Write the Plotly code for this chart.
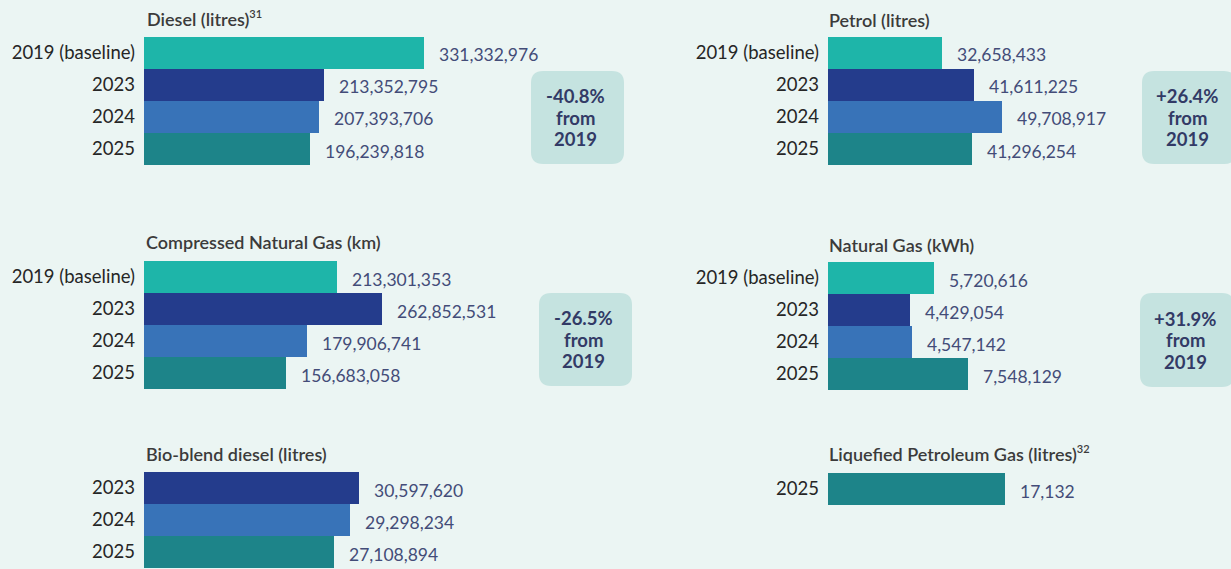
import plotly.graph_objects as go

# ---- data ----
years_full = ["2019 (baseline)", "2023", "2024", "2025"]
diesel = [331332976, 213352795, 207393706, 196239818]
petrol = [32658433, 41611225, 49708917, 41296254]
cng = [213301353, 262852531, 179906741, 156683058]
natural_gas = [5720616, 4429054, 4547142, 7548129]
bio_years = ["2023", "2024", "2025"]
bio_blend = [30597620, 29298234, 27108894]
lpg_years = ["2025"]
lpg = [17132]

# ---- styling ----
W, H = 1231, 569
BG = "#ebf5f3"
BADGE = "#c5e3e0"
YEAR_COLORS = {
    "2019 (baseline)": "#1eb5a9",
    "2023": "#243c8c",
    "2024": "#3873b8",
    "2025": "#1d8489",
}
FONT = "Lato"
SUP = '<sup><span style="font-size:11px">{}</span></sup>'

# each panel: title, categories, values, bar area (px: left, right, top, bottom),
# title anchor (px), change badge box (px) or None
panels = [
    dict(title="Diesel (litres)" + SUP.format("31"), cats=years_full, vals=diesel,
         box=(144, 424, 37, 165), tpos=(145, 19), badge=(531, 71, 624, 164)),
    dict(title="Petrol (litres)", cats=years_full, vals=petrol,
         box=(828, 1002, 37, 165), tpos=(827, 20), badge=(1142, 71, 1236, 164)),
    dict(title="Compressed Natural Gas (km)", cats=years_full, vals=cng,
         box=(144, 382, 261, 389), tpos=(144, 242), badge=(539, 293, 632, 386)),
    dict(title="Natural Gas (kWh)", cats=years_full, vals=natural_gas,
         box=(828, 968, 262, 390), tpos=(827, 245), badge=(1140, 293, 1234, 387)),
    dict(title="Bio-blend diesel (litres)", cats=bio_years, vals=bio_blend,
         box=(144, 359, 472, 568), tpos=(144, 454), badge=None),
    dict(title="Liquefied Petroleum Gas (litres)" + SUP.format("32"), cats=lpg_years, vals=lpg,
         box=(828, 1005, 473, 505), tpos=(827, 453), badge=None),
]


def px_x(x):
    return x / W


def px_y(y):
    return 1 - y / H


def rounded_rect(x0, y0, x1, y1, r):
    rx, ry = r / W, r / H
    a, b, c, d = px_x(x0), px_y(y0), px_x(x1), px_y(y1)
    return (f"M {a+rx},{b} L {c-rx},{b} Q {c},{b} {c},{b-ry} "
            f"L {c},{d+ry} Q {c},{d} {c-rx},{d} L {a+rx},{d} "
            f"Q {a},{d} {a},{d+ry} L {a},{b-ry} Q {a},{b} {a+rx},{b} Z")


fig = go.Figure()
layout = dict(
    width=W, height=H,
    margin=dict(l=0, r=0, t=0, b=0),
    paper_bgcolor=BG, plot_bgcolor=BG,
    showlegend=False, bargap=0,
    annotations=[], shapes=[],
)

for i, p in enumerate(panels, start=1):
    xa = "x" if i == 1 else f"x{i}"
    ya = "y" if i == 1 else f"y{i}"
    xkey = "xaxis" if i == 1 else f"xaxis{i}"
    ykey = "yaxis" if i == 1 else f"yaxis{i}"
    left, right, top, bottom = p["box"]
    n = len(p["cats"])

    fig.add_trace(go.Bar(
        x=p["vals"], y=p["cats"], orientation="h",
        marker=dict(color=[YEAR_COLORS[c] for c in p["cats"]], line=dict(width=0)),
        xaxis=xa, yaxis=ya, hoverinfo="skip",
    ))

    layout[xkey] = dict(domain=[px_x(left), px_x(right)], range=[0, max(p["vals"]) * 1.0005],
                        autorange=False, visible=False, anchor=ya, fixedrange=True)
    layout[ykey] = dict(domain=[px_y(bottom), px_y(top)], anchor=xa,
                        type="category", categoryorder="array", categoryarray=p["cats"],
                        range=[n - 0.5, -0.5], autorange=False,
                        showgrid=False, zeroline=False, showline=False,
                        ticks="", ticklabelstandoff=8, fixedrange=True,
                        tickfont=dict(family=FONT, size=18.5, color="#262626", weight=400))

    # panel title
    layout["annotations"].append(dict(
        text=p["title"], xref="paper", yref="paper",
        x=px_x(p["tpos"][0]), y=px_y(p["tpos"][1]),
        xanchor="left", yanchor="middle", showarrow=False,
        font=dict(family=FONT, size=18, color="#3b3b3b", weight=600),
    ))

    # value labels next to each bar (y given as category index)
    for k, v in enumerate(p["vals"]):
        layout["annotations"].append(dict(
            text=f"{v:,}", xref=xa, yref=ya, x=v, y=k,
            xanchor="left", yanchor="middle", xshift=13, yshift=-2,
            showarrow=False,
            font=dict(family=FONT, size=17.5, color="#434c78", weight=400),
        ))

    # change-from-baseline badge
    if p["badge"]:
        bx0, by0, bx1, by1 = p["badge"]
        layout["shapes"].append(dict(
            type="path", xref="paper", yref="paper",
            path=rounded_rect(bx0, by0, bx1, by1, 12),
            fillcolor=BADGE, line=dict(width=0), layer="below",
        ))
        change = (p["vals"][-1] / p["vals"][0] - 1) * 100
        lines = [f"{change:+.1f}%", "from", "2019"]
        cx = (bx0 + bx1) / 2 - 2
        cy = (by0 + by1) / 2
        for j, line in enumerate(lines):
            layout["annotations"].append(dict(
                text=f"<b>{line}</b>", xref="paper", yref="paper",
                x=px_x(cx), y=px_y(cy + (j - 1) * 21.5),
                xanchor="center", yanchor="middle", showarrow=False,
                font=dict(family=FONT, size=18.5, color="#323a66"),
            ))

fig.update_layout(**layout)
fig.write_html("out.html")
